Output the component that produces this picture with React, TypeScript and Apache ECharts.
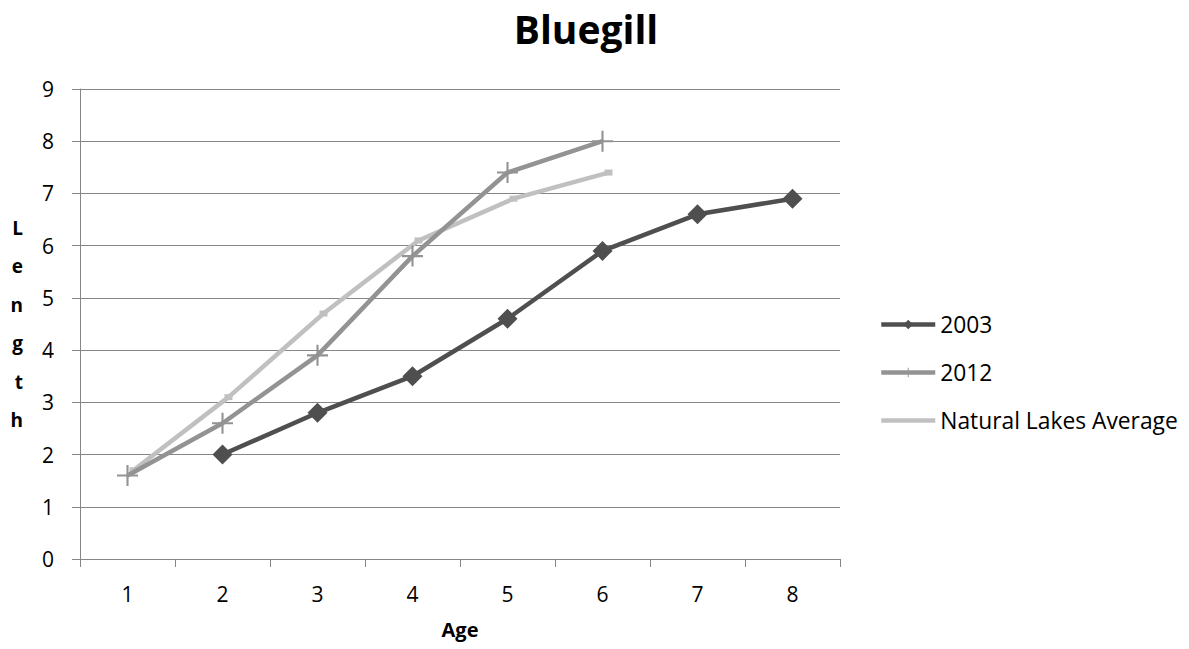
import React, { useEffect, useRef } from "react";
import * as echarts from "echarts";

const ages = ["1", "2", "3", "4", "5", "6", "7", "8"];
const series2003 = [null, 2.0, 2.8, 3.5, 4.6, 5.9, 6.6, 6.9];
const series2012 = [1.6, 2.6, 3.9, 5.8, 7.4, 8.0, null, null];
const naturalLakes = [1.7, 3.1, 4.7, 6.1, 6.9, 7.4, null, null];
const yTicks = { min: 0, max: 9, interval: 1 };

const FONT = "'Open Sans', 'Noto Sans', sans-serif";
const plusPath = "path://M9,0h2v9h9v2h-9v9h-2v-9h-9v-2h9z";

export default function App() {
  const ref = useRef<HTMLDivElement>(null);
  useEffect(() => {
    if (!ref.current) return;
    const chart = echarts.init(ref.current, undefined, { renderer: "svg" });
    const axisLine = { show: true, lineStyle: { color: "#868686", width: 1 } };
    chart.setOption({
      animation: false,
      backgroundColor: "#ffffff",
      title: {
        text: "Bluegill",
        left: 581,
        textAlign: "center",
        top: 4,
        textStyle: { fontFamily: FONT, fontWeight: "bold", fontSize: 39, color: "#000" },
      },
      legend: {
        orient: "vertical",
        left: 874,
        top: 308,
        itemWidth: 54,
        itemHeight: 12,
        itemGap: 25,
        lineStyle: { width: 4.5 },
        textStyle: { fontFamily: FONT, fontSize: 22.8, color: "#000" },
        data: [
          "2003",
          "2012",
          { name: "Natural Lakes Average", itemStyle: { opacity: 0 } },
        ],
      },
      grid: [
        { left: 80, right: 349, top: 89, bottom: 90 },
        { left: 86, right: 343, top: 89, bottom: 90 },
      ],
      xAxis: [
        {
          type: "category",
          gridIndex: 0,
          data: ages,
          boundaryGap: true,
          name: "Age",
          nameLocation: "middle",
          nameGap: 60,
          nameTextStyle: { fontFamily: FONT, fontWeight: "bold", fontSize: 20, color: "#000" },
          axisLine,
          axisTick: { show: true, length: 8, inside: false, lineStyle: { color: "#868686" } },
          axisLabel: { fontFamily: FONT, fontSize: 21, color: "#000", margin: 24 },
          splitLine: { show: false },
        },
        {
          type: "category",
          gridIndex: 1,
          data: ages,
          boundaryGap: true,
          show: false,
        },
      ],
      yAxis: [
        {
          type: "value",
          gridIndex: 0,
          min: yTicks.min,
          max: yTicks.max,
          interval: yTicks.interval,
          name: "L\ne\nn\ng\nt\nh",
          nameLocation: "middle",
          nameRotate: 0,
          nameGap: 57,
          nameTextStyle: {
            fontFamily: FONT,
            fontWeight: "bold",
            fontSize: 19,
            color: "#000",
            lineHeight: 38.5,
            padding: [9, 0, 0, 0],
          },
          axisLine,
          axisTick: { show: true, length: 8, lineStyle: { color: "#868686" } },
          axisLabel: { fontFamily: FONT, fontSize: 21, color: "#000", margin: 26 },
          splitLine: { show: true, lineStyle: { color: "#868686", width: 1 } },
        },
        {
          type: "value",
          gridIndex: 1,
          min: yTicks.min,
          max: yTicks.max,
          interval: yTicks.interval,
          show: false,
        },
      ],
      series: [
        {
          name: "Natural Lakes Average",
          type: "line",
          xAxisIndex: 1,
          yAxisIndex: 1,
          data: naturalLakes,
          color: "#c0c0c0",
          lineStyle: { width: 4.5, color: "#c0c0c0" },
          symbol: "rect",
          symbolSize: [8, 6],
          itemStyle: { color: "#c0c0c0" },
          z: 2,
        },
        {
          name: "2012",
          type: "line",
          data: series2012,
          color: "#939393",
          lineStyle: { width: 4.5, color: "#939393" },
          symbol: plusPath,
          symbolSize: 21,
          itemStyle: { color: "#939393" },
          z: 3,
        },
        {
          name: "2003",
          type: "line",
          data: series2003,
          color: "#4f4f4f",
          lineStyle: { width: 4.5, color: "#4f4f4f" },
          symbol: "diamond",
          symbolSize: 20,
          itemStyle: { color: "#4f4f4f" },
          z: 4,
        },
      ],
    });
    return () => chart.dispose();
  }, []);
  return <div ref={ref} style={{ width: 1189, height: 649, marginLeft: -8, marginTop: -8 }} />;
}
